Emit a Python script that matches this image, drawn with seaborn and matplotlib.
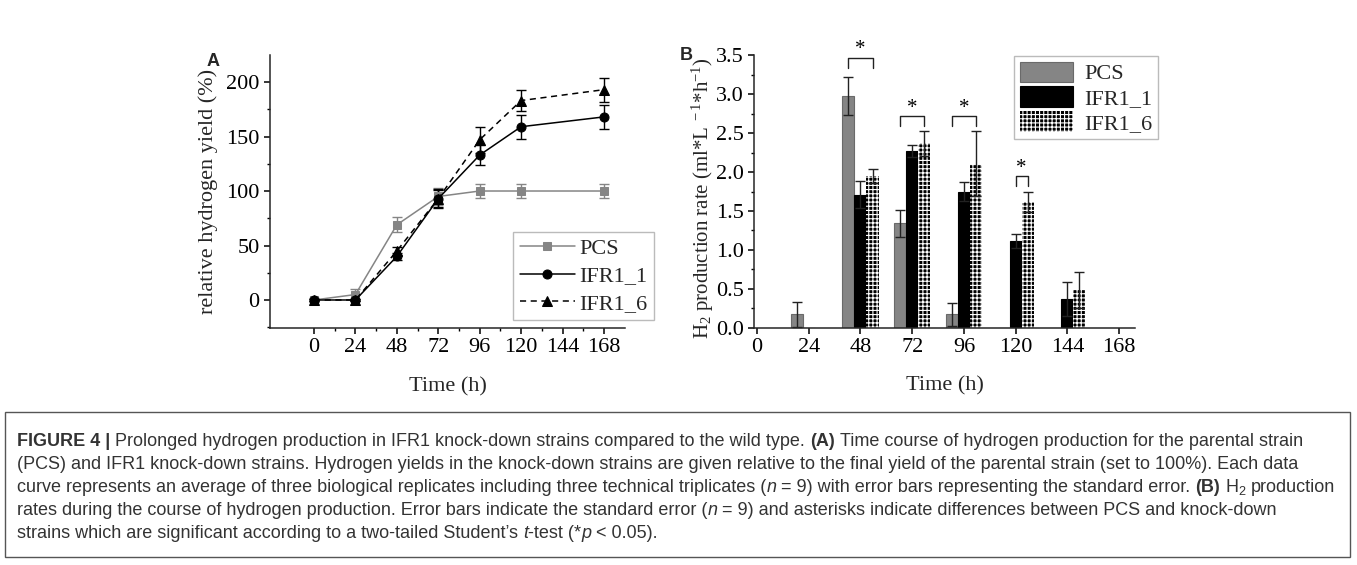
import matplotlib
matplotlib.use('Agg')
import matplotlib.pyplot as plt
import matplotlib.font_manager as fm
from matplotlib.patches import Rectangle
import seaborn as sns
import pandas as pd
import numpy as np

# ---- data, panel A (relative hydrogen yield, %) ----
time_a = [0, 24, 48, 72, 96, 120, 168]
pcs_yield = [0, 5, 69, 95, 100, 100, 100]
pcs_yield_err = [2, 5, 7, 8, 6, 6, 6]
ifr1_1_yield = [0, 0, 40, 93, 133, 159, 168]
ifr1_1_yield_err = [1, 1, 3, 8, 9, 11, 11]
ifr1_6_yield = [0, 0, 45, 93, 147, 183, 193]
ifr1_6_yield_err = [1, 1, 4, 9, 12, 10, 11]

# ---- data, panel B (H2 production rate) ----
time_b = [24, 48, 72, 96, 120, 144]
pcs_rate = [0.17, 2.98, 1.34, 0.17, 0.0, 0.0]
pcs_rate_err = [0.16, 0.24, 0.17, 0.15, 0.0, 0.0]
ifr1_1_rate = [0.0, 1.71, 2.27, 1.75, 1.11, 0.37]
ifr1_1_rate_err = [0.0, 0.17, 0.08, 0.12, 0.09, 0.22]
ifr1_6_rate = [0.0, 1.95, 2.37, 2.11, 1.62, 0.48]
ifr1_6_rate_err = [0.0, 0.09, 0.16, 0.42, 0.13, 0.23]

strains = ['PCS', 'IFR1_1', 'IFR1_6']
ticks_h = [0, 24, 48, 72, 96, 120, 144, 168]

# significance brackets (t-test, p < 0.05)
sig_times = [48, 72, 96, 120]
sig_left = ['PCS', 'PCS', 'PCS', 'IFR1_1']
sig_right = ['IFR1_6', 'IFR1_6', 'IFR1_6', 'IFR1_6']
sig_top = [3.47, 2.72, 2.72, 1.95]

sns.set_theme(style='ticks')
plt.rcParams['font.family'] = ['Liberation Serif', 'DejaVu Serif']
plt.rcParams['mathtext.fontset'] = 'custom'
plt.rcParams['mathtext.rm'] = 'Liberation Serif'
plt.rcParams['mathtext.it'] = 'Liberation Serif:italic'
plt.rcParams['hatch.linewidth'] = 0.8
plt.rcParams['axes.linewidth'] = 1.1
for ax_ in ['xtick', 'ytick']:
    plt.rcParams[f'{ax_}.major.width'] = 1.1
    plt.rcParams[f'{ax_}.minor.width'] = 1.0
    plt.rcParams[f'{ax_}.major.size'] = 4.5
    plt.rcParams[f'{ax_}.minor.size'] = 2.5
    plt.rcParams[f'{ax_}.color'] = 'black'
    plt.rcParams[f'{ax_}.direction'] = 'out'

W, H = 1357, 565
fig = plt.figure(figsize=(W / 100, H / 100), dpi=100)

gray = '#858585'

# ================= Panel A =================
axA = fig.add_axes([270 / W, 1 - 328 / H, 355 / W, 273 / H])
styles = [
    ('PCS', pcs_yield, pcs_yield_err, gray, 's', 5.5, '-'),
    ('IFR1_1', ifr1_1_yield, ifr1_1_yield_err, 'black', 'o', 6.5, '-'),
    ('IFR1_6', ifr1_6_yield, ifr1_6_yield_err, 'black', '^', 7, '--'),
]
for name, vals, errs, col, mk, ms, ls in styles:
    axA.errorbar(time_a, vals, yerr=errs, fmt='none', ecolor=col, elinewidth=1.0,
                 capsize=3.5, capthick=1.0, zorder=2)
    sns.lineplot(x=time_a, y=vals, ax=axA, color=col, marker=mk, markersize=ms,
                 markeredgecolor=col, markerfacecolor=col, linestyle=ls, lw=1.1,
                 label=name, zorder=3)
    if ls == '--':
        axA.lines[-1].set_dashes((4, 3))

axA.set_xlim(-25.5, 180.2)
axA.set_ylim(-25.7, 224.8)
axA.set_xticks(ticks_h)
axA.set_xticks(np.arange(12, 180, 24), minor=True)
axA.set_yticks([0, 50, 100, 150, 200])
axA.set_yticks(np.arange(-25, 225, 25), minor=True)
axA.tick_params(labelsize=16, pad=3)
axA.set_xlabel('Time (h)', fontsize=16, labelpad=14)
axA.set_ylabel('relative hydrogen yield (%)', fontsize=16, labelpad=6)
sns.despine(ax=axA)

legA = axA.legend(loc='upper left', bbox_to_anchor=(513 / W, 1 - 232 / H),
                  bbox_transform=fig.transFigure, borderaxespad=0, fontsize=16,
                  frameon=True, fancybox=False, edgecolor='#bbbbbb', framealpha=1,
                  handlelength=2.5, labelspacing=0.3, borderpad=0.3,
                  handletextpad=0.2)
legA.get_frame().set_linewidth(1.0)

# ================= Panel B =================
axB = fig.add_axes([754 / W, 1 - 327.7 / H, 381 / W, 272.3 / H])
df_b = pd.DataFrame({
    'time': time_b * 3,
    'rate': pcs_rate + ifr1_1_rate + ifr1_6_rate,
    'err': pcs_rate_err + ifr1_1_rate_err + ifr1_6_rate_err,
    'strain': ['PCS'] * 6 + ['IFR1_1'] * 6 + ['IFR1_6'] * 6,
})
sns.barplot(data=df_b, x='time', y='rate', hue='strain', hue_order=strains,
            native_scale=True, width=0.7, errorbar=None, legend=False,
            palette=[gray, 'black', 'black'], saturation=1, ax=axB)

centers = {}
for name, cont in zip(strains, axB.containers):
    sub = df_b[df_b['strain'] == name]
    xs = []
    for p in cont.patches:
        xs.append(p.get_x() + p.get_width() / 2)
        if name == 'PCS':
            p.set_edgecolor('#6a6a6a')
            p.set_linewidth(0.8)
        elif name == 'IFR1_1':
            p.set_edgecolor('black')
            p.set_linewidth(0.8)
        else:
            p.set_hatch('++++')
            if hasattr(p, 'set_hatchcolor'):
                p.set_hatchcolor('white')
                p.set_edgecolor('#777777')
                p.set_linewidth(0.8)
            else:
                p.set_edgecolor('white')
                p.set_linewidth(0)
    xs = np.array(xs)
    centers[name] = dict(zip(sub['time'], xs))
    mask = (sub['rate'].values > 0)
    axB.errorbar(xs[mask], sub['rate'].values[mask], yerr=sub['err'].values[mask],
                 fmt='none', ecolor='#222222', elinewidth=1.0, capsize=3.5,
                 capthick=1.0, zorder=4)

for t, l, r, top in zip(sig_times, sig_left, sig_right, sig_top):
    x1, x2 = centers[l][t], centers[r][t]
    axB.plot([x1, x1, x2, x2], [top - 0.13, top, top, top - 0.13], color='#222222',
             lw=1.0, clip_on=False, zorder=5)
    axB.text((x1 + x2) / 2, top - 0.02, '*', ha='center', va='bottom', fontsize=15,
             color='black', clip_on=False)

axB.set_xlim(-1.4, 175.4)
axB.set_ylim(0, 3.5)
axB.set_xticks(ticks_h)
axB.set_xticklabels([str(t) for t in ticks_h])
axB.set_yticks(np.arange(0, 3.51, 0.5))
axB.set_yticklabels([f'{v:.1f}' for v in np.arange(0, 3.51, 0.5)])
axB.set_yticks(np.arange(0.25, 3.5, 0.5), minor=True)
axB.tick_params(labelsize=16, pad=3)
axB.set_xlabel('Time (h)', fontsize=16, labelpad=14)
axB.set_ylabel(r'H$_2$ production rate (ml*L$^{\ -1}$*h$^{-1}$)', fontsize=15,
               labelpad=2)
axB.yaxis.set_label_coords(-0.099, 0.475)
sns.despine(ax=axB)

legB = axB.legend(axB.containers, strains, loc='upper left',
                  bbox_to_anchor=(1014 / W, 1 - 56 / H), bbox_transform=fig.transFigure,
                  borderaxespad=0, fontsize=16, frameon=True, fancybox=False,
                  edgecolor='#bbbbbb', framealpha=1, handlelength=2.4,
                  handleheight=1.05, labelspacing=0.08, borderpad=0.25,
                  handletextpad=0.5)
legB.get_frame().set_linewidth(1.0)

# panel letters
fig.text(207 / W, 1 - 66 / H, 'A', fontsize=13, fontweight='bold',
         family='Liberation Sans')
fig.text(680 / W, 1 - 60 / H, 'B', fontsize=13, fontweight='bold',
         family='Liberation Sans')

# ================= caption =================
names = {f.name for f in fm.fontManager.ttflist}
cap_font = 'Liberation Sans Narrow' if 'Liberation Sans Narrow' in names else 'Liberation Sans'
cap_color = '#333333'
fig.patches.append(Rectangle((5 / W, 1 - 557 / H), 1345 / W, 145 / H,
                             transform=fig.transFigure, fill=False,
                             edgecolor='#555555', lw=1.0))

B_, N_, I_, S_ = 'bold', 'normal', 'italic', 'sub'
caption = [
    [('FIGURE 4 |', B_), (' Prolonged hydrogen production in IFR1 knock-down strains compared to the wild type. ', N_),
     ('(A)', B_), (' Time course of hydrogen production for the parental strain', N_)],
    [('(PCS) and IFR1 knock-down strains. Hydrogen yields in the knock-down strains are given relative to the final yield of the parental strain (set to 100%). Each data', N_)],
    [('curve represents an average of three biological replicates including three technical triplicates (', N_), ('n', I_),
     (' = 9) with error bars representing the standard error. ', N_), ('(B)', B_), (' H', N_), ('2', S_), (' production', N_)],
    [('rates during the course of hydrogen production. Error bars indicate the standard error (', N_), ('n', I_),
     (' = 9) and asterisks indicate differences between PCS and knock-down', N_)],
    [('strains which are significant according to a two-tailed Student\u2019s ', N_), ('t', I_), ('-test (*', N_),
     ('p', I_), (' < 0.05).', N_)],
]

renderer = fig.canvas.get_renderer()


def text_w(s, size, style):
    t = fig.text(0, 0, s, fontsize=size, family=cap_font,
                 fontweight='bold' if style == B_ else 'normal',
                 style='italic' if style == I_ else 'normal')
    w = t.get_window_extent(renderer).width
    t.remove()
    return w


def draw_line(segs, x0, y0, size, draw=True):
    sp = text_w('a a', size, N_) - text_w('aa', size, N_)
    x = x0
    for s, style in segs:
        core = s.strip(' ')
        lead = len(s) - len(s.lstrip(' '))
        trail = len(s) - len(s.rstrip(' '))
        x += lead * sp
        fs = size * 0.7 if style == S_ else size
        dy = -3 if style == S_ else 0
        if draw:
            fig.text(x / W, (H - y0 + dy) / H, core, fontsize=fs, family=cap_font,
                     fontweight='bold' if style == B_ else 'normal',
                     style='italic' if style == I_ else 'normal',
                     color=cap_color, va='baseline', ha='left')
        x += text_w(core, fs, style) + trail * sp
    return x - x0


base = 10
widths = [draw_line(segs, 0, 0, base, draw=False) for segs in caption]
cap_size = min(base * 1313 / widths[0], base * 1322 / max(widths))
for i, segs in enumerate(caption):
    draw_line(segs, 17, 446 + 23 * i, cap_size)

fig.savefig('out.png', dpi=100)
